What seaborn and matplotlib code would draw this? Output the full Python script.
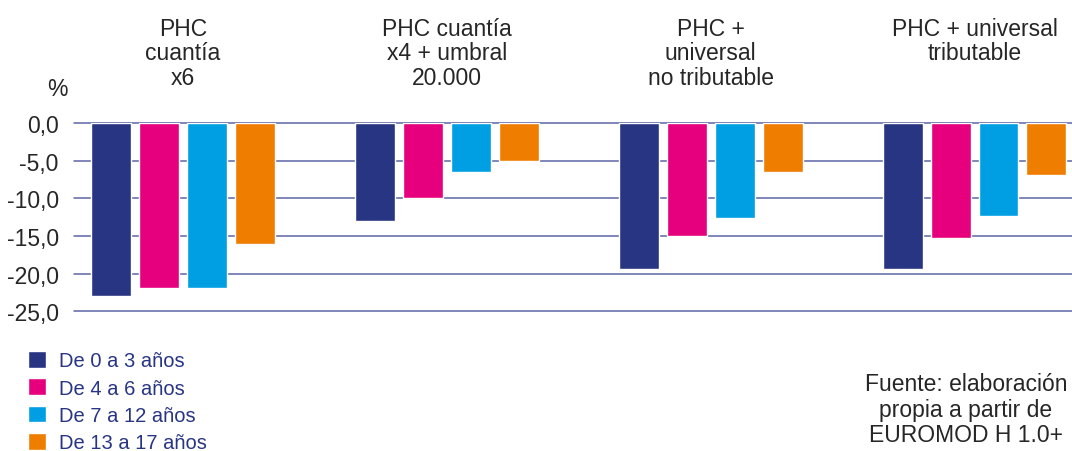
import pandas as pd
import numpy as np
import matplotlib.pyplot as plt
import seaborn as sns

# datos
escenarios = ['PHC\ncuantía\nx6', 'PHC cuantía\nx4 + umbral\n20.000',
              'PHC +\nuniversal\nno tributable', 'PHC + universal\ntributable']
edades = ['De 0 a 3 años', 'De 4 a 6 años', 'De 7 a 12 años', 'De 13 a 17 años']
v_0_3 = [-23.0, -13.0, -19.4, -19.4]
v_4_6 = [-21.9, -10.0, -15.0, -15.3]
v_7_12 = [-21.9, -6.5, -12.6, -12.3]
v_13_17 = [-16.0, -5.1, -6.5, -6.9]
yticks = [0, -5, -10, -15, -20, -25]
colores = ['#283583', '#E6007E', '#009FE3', '#EF7D00']

rows = []
for edad, vals in zip(edades, [v_0_3, v_4_6, v_7_12, v_13_17]):
    for esc, v in zip(escenarios, vals):
        rows.append({'escenario': esc, 'edad': edad, 'valor': v})
df = pd.DataFrame(rows)

sns.set_style('white')
plt.rcParams['font.family'] = ['Liberation Sans', 'DejaVu Sans']

fig = plt.figure(figsize=(10.72, 4.52), dpi=100)
ax = fig.add_axes([74 / 1072, 1 - 312.3 / 452, (1083.5 - 74) / 1072, (312.3 - 124) / 452])

sns.barplot(data=df, x='escenario', y='valor', hue='edad', palette=colores,
            width=0.727, gap=1 / 6, ax=ax, legend=True, saturation=1, zorder=3)

# líneas de la cuadrícula
for t in yticks:
    ax.axhline(t, color='#5c66a6', lw=1.1, zorder=0, clip_on=False)

ax.set_ylim(-25, 0)
ax.set_xlim(-0.413, 3.413)
ax.set_yticks(yticks)
ax.set_yticklabels([f'{t:.1f}'.replace('.', ',') for t in yticks], fontsize=16.5)
ax.tick_params(axis='y', length=0, pad=11)
ax.set_xticks([])
ax.set_xlabel('')
ax.set_ylabel('')
for s in ax.spines.values():
    s.set_visible(False)

# títulos de grupo
for i, esc in enumerate(escenarios):
    ax.text(i, 1 + (124 - 18) / (312.3 - 124), esc, transform=ax.get_xaxis_transform(),
            ha='center', va='top', fontsize=16.5, linespacing=1.08, clip_on=False)

fig.text(57 / 1072, 1 - 90 / 452, '%', ha='center', va='center', fontsize=16.5)

handles, labels = ax.get_legend_handles_labels()
ax.get_legend().remove()
fig.legend(handles, labels, loc='upper left', bbox_to_anchor=(28 / 1072, 1 - 352 / 452),
           frameon=False, fontsize=14.5, labelcolor='#283583', handlelength=0.9,
           handleheight=0.9, handletextpad=0.62, labelspacing=0.4, borderpad=0,
           borderaxespad=0)

fig.text(966 / 1072, 1 - 373 / 452, 'Fuente: elaboración\npropia a partir de\nEUROMOD H 1.0+',
         ha='center', va='top', fontsize=16.5, linespacing=1.15)

fig.savefig('out.png', dpi=100)
